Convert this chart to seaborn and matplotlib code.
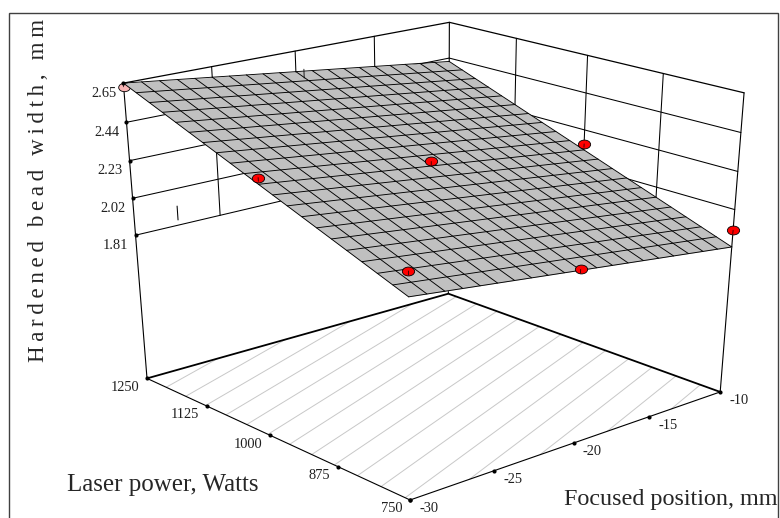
import numpy as np
import matplotlib
matplotlib.use('Agg')
import matplotlib.pyplot as plt
import seaborn as sns
from matplotlib.markers import MarkerStyle
from matplotlib.patches import Rectangle
from matplotlib.transforms import Affine2D
from mpl_toolkits.mplot3d import proj3d

# data
focus_ticks = [-30, -25, -20, -15, -10]
power_ticks = [750, 875, 1000, 1125, 1250]
width_ticks = [1.81, 2.02, 2.23, 2.44, 2.65]
floor_z = 0.954
top_z = 2.65

focus_grid = [-30, -29, -28, -27, -26, -25, -24, -23, -22, -21, -20, -19, -18, -17, -16, -15, -14, -13, -12, -11, -10]
power_grid = [750, 775, 800, 825, 850, 875, 900, 925, 950, 975, 1000, 1025, 1050, 1075, 1100, 1125, 1150, 1175, 1200, 1225, 1250]
edge_near = [2.040, 2.029, 2.017, 2.006, 1.994, 1.983, 1.971, 1.960, 1.948, 1.937, 1.925, 1.914, 1.902, 1.891, 1.879, 1.868, 1.856, 1.845, 1.833, 1.822, 1.810]
edge_far = [2.650, 2.639, 2.627, 2.616, 2.604, 2.593, 2.581, 2.570, 2.558, 2.547, 2.535, 2.524, 2.512, 2.501, 2.489, 2.478, 2.466, 2.455, 2.443, 2.432, 2.420]
edge_left = [2.040, 2.071, 2.101, 2.132, 2.162, 2.193, 2.223, 2.254, 2.284, 2.315, 2.345, 2.376, 2.406, 2.437, 2.467, 2.498, 2.528, 2.559, 2.589, 2.620, 2.650]
edge_right = [1.810, 1.841, 1.871, 1.902, 1.932, 1.963, 1.993, 2.024, 2.054, 2.085, 2.115, 2.146, 2.176, 2.207, 2.237, 2.268, 2.298, 2.329, 2.359, 2.390, 2.420]
contour_levels = [1.85, 1.90, 1.95, 2.00, 2.05, 2.10, 2.15, 2.20, 2.25, 2.30, 2.35, 2.40, 2.45, 2.50, 2.55, 2.60]

point_focus = [-30, -20, -10, -30, -20, -10]
point_power = [750, 750, 750, 1000, 1000, 1000]
point_width = [2.17, 1.93, 1.905, 2.38, 2.255, 2.15]
under_focus = [-30]
under_power = [1250]
under_width = [2.63]
under_fit = [2.65]

# short stubs of hidden lines that show in the picture
stub_wall = dict(x=[-27.5, -27.5], y=[1250, 1250], z=[1.84, 1.92])
stub_surface = dict(x=[-19.5, -19.5], y=[1250, 1250], z=[2.49, 2.54])

sns.set_theme(style='white')
plt.rcParams['font.family'] = ['Liberation Serif', 'DejaVu Serif']

fig = plt.figure(figsize=(7.8, 5.18), dpi=100, facecolor='white')
ax = fig.add_axes([0, 0, 1, 1], projection='3d', computed_zorder=False)
# keep the non-square axes box
ax.apply_aspect = lambda position=None: None
ax.set_xlim(-30, -10, view_margin=0)
ax.set_ylim(750, 1250, view_margin=0)
ax.set_zlim(floor_z, top_z, view_margin=0)
ax.set_axis_off()

# camera
ax.view_init(elev=24.199, azim=-131.1637, roll=0.0379)
ax.set_proj_type('persp', focal_length=0.5876)
ax.set_box_aspect((1, 1.0016, 1.058))
sx, tx = 3913.39, 431.26
sy, ty = 2851.05, 242.43
ax.set_position([(tx - 0.095 * sx) / 780, (518 - ty - 0.095 * sy) / 518, 0.185 * sx / 780, 0.185 * sy / 518])
M = ax.get_proj()

wall_kw = dict(color='black', lw=0.75, zorder=1)
# back walls
for z in width_ticks[:-1]:
    ax.plot([-30, -10], [1250, 1250], [z, z], **wall_kw)
    ax.plot([-10, -10], [1250, 750], [z, z], **wall_kw)
for x in focus_ticks[1:-1]:
    ax.plot([x, x], [1250, 1250], [width_ticks[0], top_z], **wall_kw)
for y in power_ticks[1:-1]:
    ax.plot([-10, -10], [y, y], [width_ticks[0], top_z], **wall_kw)
ax.plot([-30, -10, -10], [1250, 1250, 750], [top_z, top_z, top_z], color='black', lw=0.9, zorder=1)
for x, y in [(-30, 1250), (-10, 1250), (-10, 750)]:
    ax.plot([x, x], [y, y], [floor_z, top_z], color='black', lw=0.8, zorder=1)
ax.plot(stub_wall['x'], stub_wall['y'], stub_wall['z'], **wall_kw)

# floor with contour lines
X2, Y2 = np.meshgrid([focus_grid[0], focus_grid[-1]], [power_grid[0], power_grid[-1]])
Z2 = np.array([[edge_near[0], edge_near[-1]], [edge_far[0], edge_far[-1]]])
ax.contour(X2, Y2, Z2, levels=contour_levels, zdir='z', offset=floor_z, colors='#c8c8c8', linewidths=0.7, zorder=2)
ax.plot([-30, -10, -10], [1250, 1250, 750], [floor_z] * 3, color='black', lw=1.3, zorder=3)
ax.plot([-30, -30, -10], [1250, 750, 750], [floor_z] * 3, color='black', lw=0.8, zorder=3)

flat_dot = MarkerStyle('o', transform=Affine2D().scale(1, 0.72))

# point under the surface, then the surface
ax.scatter(under_focus, under_power, under_width, s=70, marker=flat_dot, c='#f8b4b4', edgecolors='black', linewidths=0.6, depthshade=False, zorder=4)
for x, y, a, b in zip(under_focus, under_power, under_width, under_fit):
    ax.plot([x, x], [y, y], [a, b], color='black', lw=0.5, zorder=4)
ax.plot_surface(X2, Y2, Z2, color='#c0c0c0', shade=False, linewidth=0, antialiased=False, zorder=5)
for x, a, b in zip(focus_grid, edge_near, edge_far):
    ax.plot([x, x], [power_grid[0], power_grid[-1]], [a, b], color='black', lw=0.65, zorder=6)
for y, a, b in zip(power_grid, edge_left, edge_right):
    ax.plot([focus_grid[0], focus_grid[-1]], [y, y], [a, b], color='black', lw=0.65, zorder=6)
ax.plot(stub_surface['x'], stub_surface['y'], stub_surface['z'], color='black', lw=0.6, zorder=6)

ax.scatter(point_focus, point_power, point_width, s=78, marker=flat_dot, c='#ff0000', edgecolors='black', linewidths=0.6, depthshade=False, zorder=7)
for x, y, a in zip(point_focus, point_power, point_width):
    ax.plot([x, x], [y, y], [a, a - 0.02], color='black', lw=0.5, zorder=8)


def tick(x, y, z, label, dx, dy, ha):
    ax.scatter([x], [y], [z], s=9, c='black', linewidths=0, depthshade=False, zorder=9)
    x2, y2, _ = proj3d.proj_transform(x, y, z, M)
    ax.annotate(label, xy=(x2, y2), xycoords='data', xytext=(dx, dy), textcoords='offset pixels',
                ha=ha, va='center', fontsize=10.4, color='#202020', annotation_clip=False)


for z in width_ticks:
    tick(-30, 1250, z, f'{z:.2f}', -7, -10, 'right')
for y in power_ticks:
    tick(-30, y, floor_z, str(y), -8, -9, 'right')
for x in focus_ticks:
    tick(x, 750, floor_z, str(x), 9, -9, 'left')

t = '\u2009'
ylabel = (t * 3).join(t.join(w) for w in ['Hardened', 'bead', 'width,', 'mm'])
fig.text(39 / 780, 1 - 190 / 518, ylabel, rotation=90, ha='center', va='center', fontsize=16.6)
fig.text(67 / 780, 1 - 485 / 518, 'Laser power, Watts', ha='left', va='center', fontsize=18)
fig.text(777 / 780, 1 - 499 / 518, 'Focused position, mm', ha='right', va='center', fontsize=17.4)
fig.add_artist(Rectangle((9 / 780, -0.02), 769 / 780, 1 - 13 / 518 + 0.02, transform=fig.transFigure, fill=False, edgecolor='#404040', lw=1.0))

fig.savefig('out.png', dpi=100)
